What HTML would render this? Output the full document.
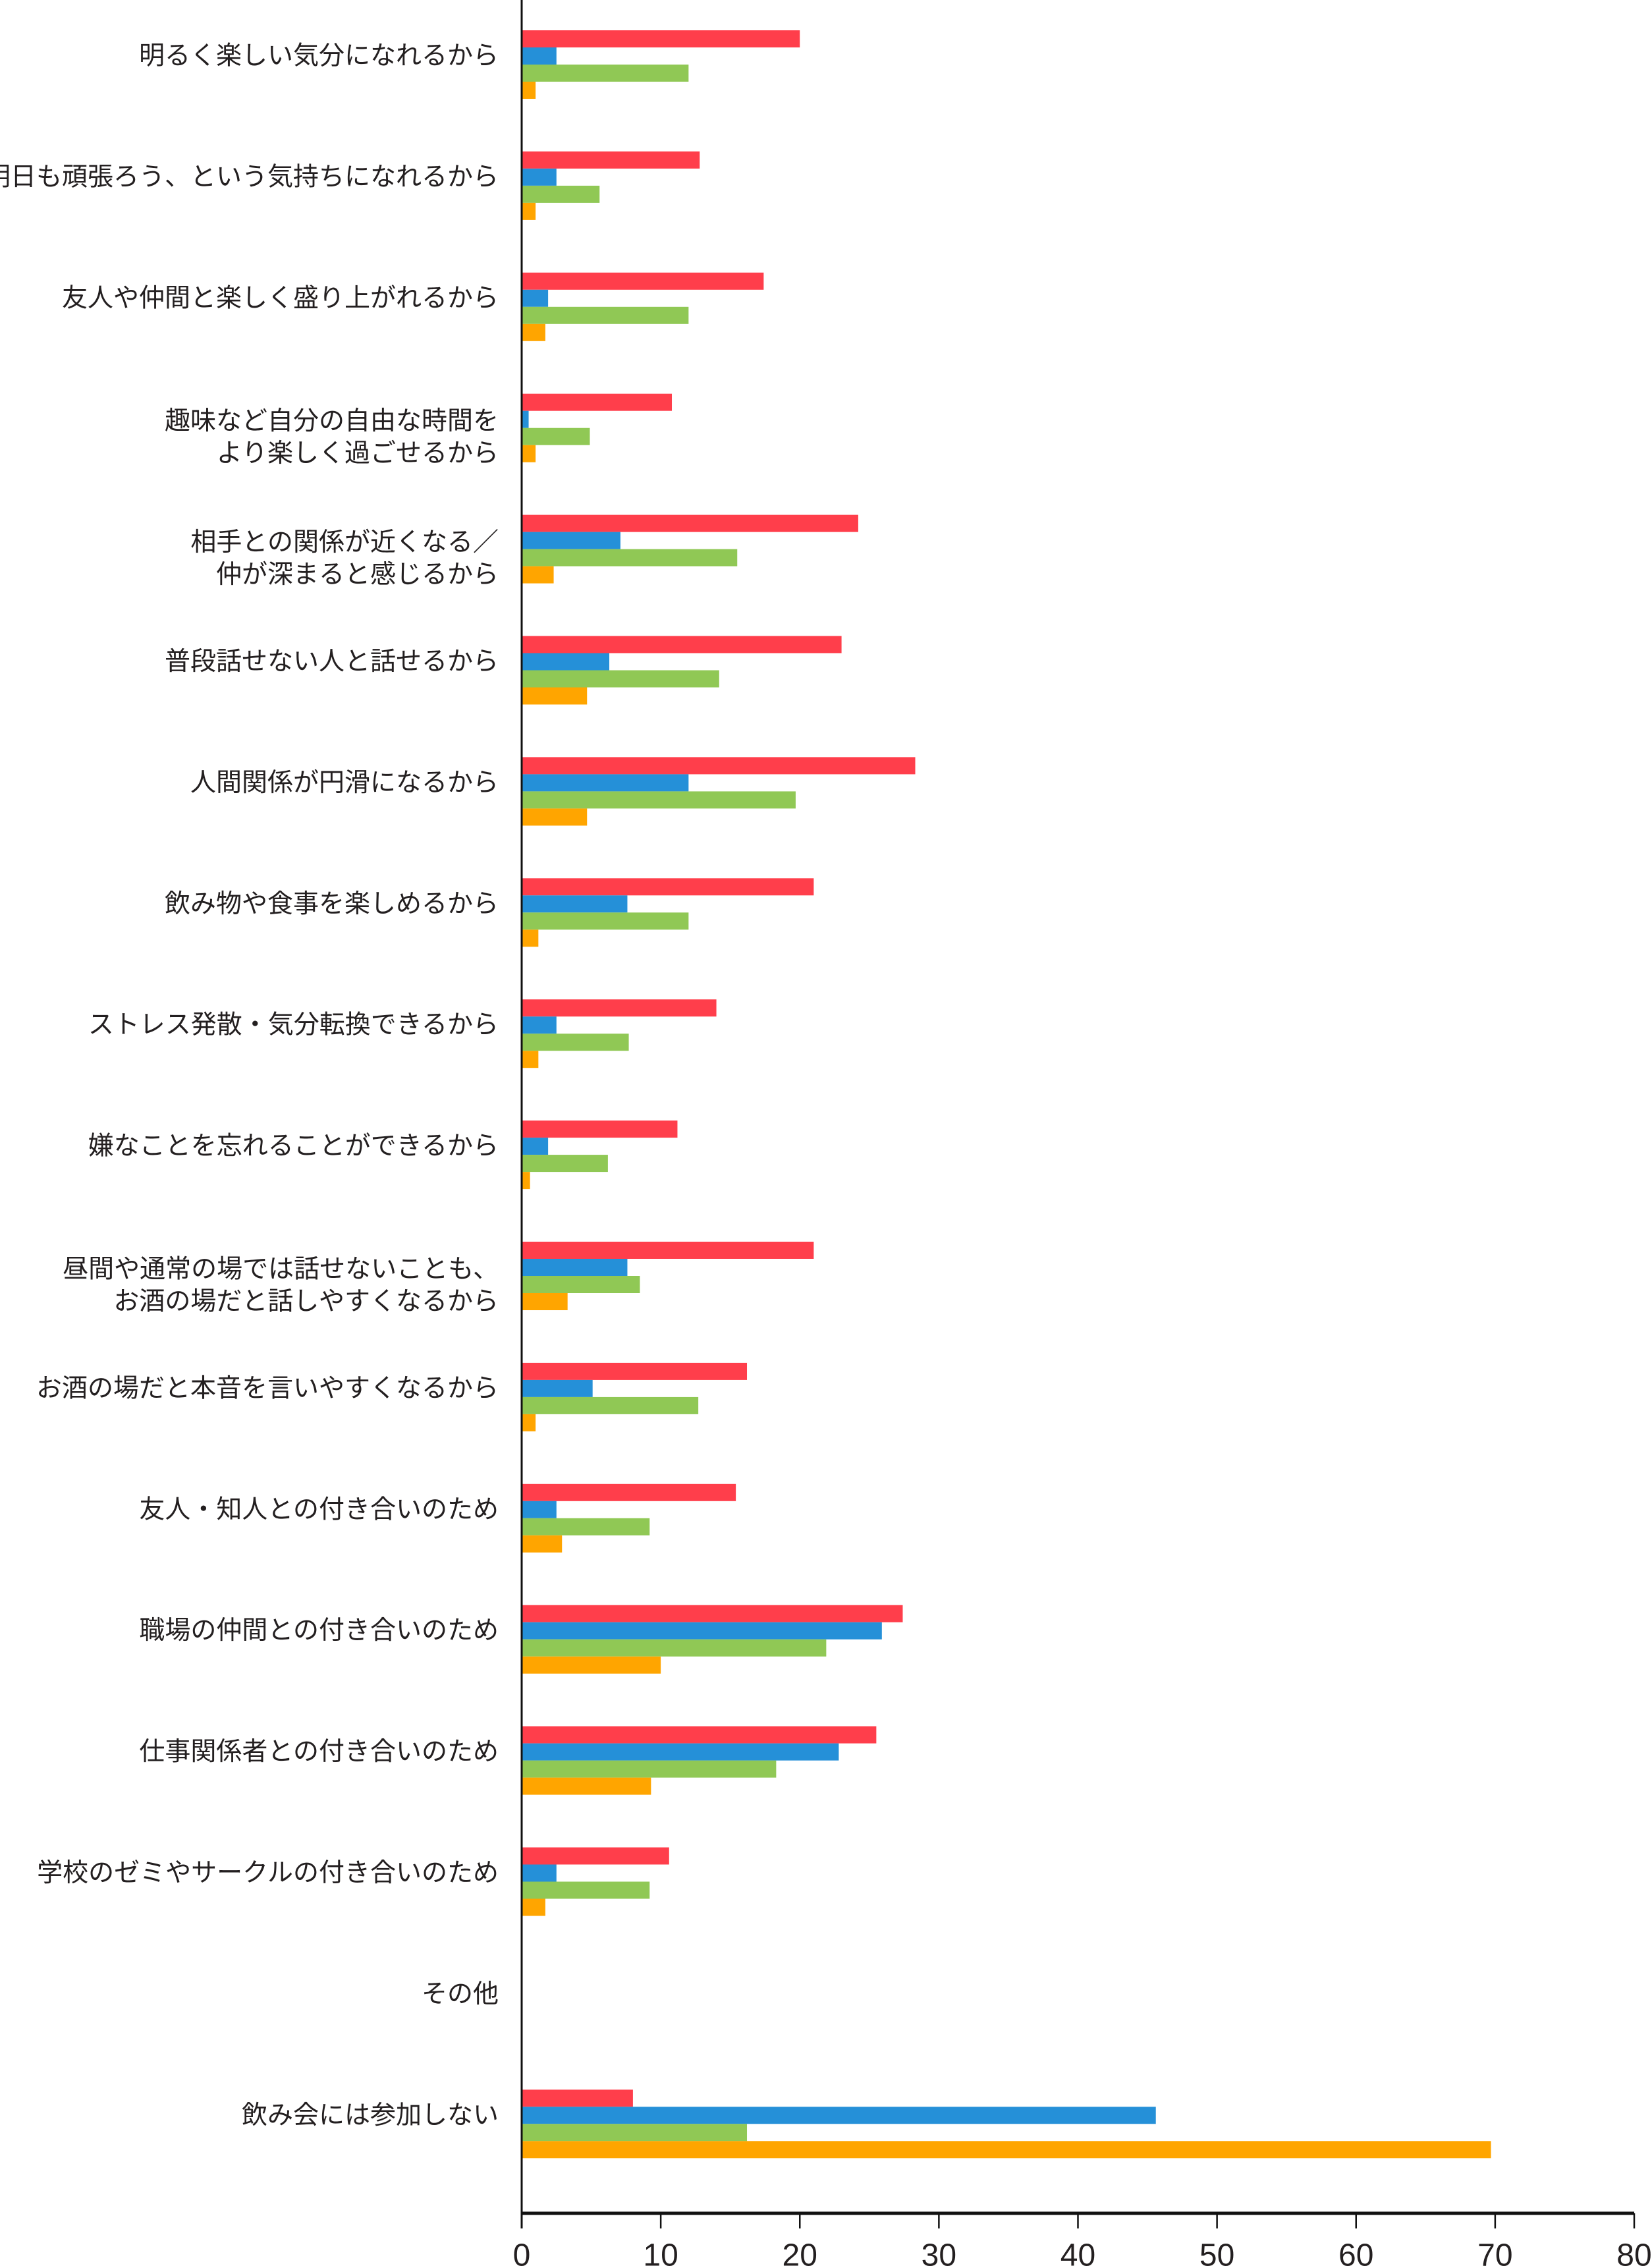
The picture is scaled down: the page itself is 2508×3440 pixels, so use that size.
<!DOCTYPE html>
<html><head><meta charset="utf-8"><style>
html,body{margin:0;padding:0;background:#fff;}
svg{display:block;}
text{font-family:"Liberation Sans","Noto Sans CJK JP",sans-serif;fill:#231f20;}
</style></head><body>
<svg id="chart" width="2508" height="3440" viewBox="0 0 2508 3440" xmlns="http://www.w3.org/2000/svg">
<g id="labels"></g>
<g id="bars"></g>
<g id="axes"></g>
</svg>
<script>
const categories = [
 ["明るく楽しい気分になれるから"],
 ["明日も頑張ろう、という気持ちになれるから"],
 ["友人や仲間と楽しく盛り上がれるから"],
 ["趣味など自分の自由な時間を","より楽しく過ごせるから"],
 ["相手との関係が近くなる／","仲が深まると感じるから"],
 ["普段話せない人と話せるから"],
 ["人間関係が円滑になるから"],
 ["飲み物や食事を楽しめるから"],
 ["ストレス発散・気分転換できるから"],
 ["嫌なことを忘れることができるから"],
 ["昼間や通常の場では話せないことも、","お酒の場だと話しやすくなるから"],
 ["お酒の場だと本音を言いやすくなるから"],
 ["友人・知人との付き合いのため"],
 ["職場の仲間との付き合いのため"],
 ["仕事関係者との付き合いのため"],
 ["学校のゼミやサークルの付き合いのため"],
 ["その他"],
 ["飲み会には参加しない"]
];
const seriesRed    = [20.0,12.8,17.4,10.8,24.2,23.0,28.3,21.0,14.0,11.2,21.0,16.2,15.4,27.4,25.5,10.6,0,8.0];
const seriesBlue   = [2.5,2.5,1.9,0.5,7.1,6.3,12.0,7.6,2.5,1.9,7.6,5.1,2.5,25.9,22.8,2.5,0,45.6];
const seriesGreen  = [12.0,5.6,12.0,4.9,15.5,14.2,19.7,12.0,7.7,6.2,8.5,12.7,9.2,21.9,18.3,9.2,0,16.2];
const seriesOrange = [1.0,1.0,1.7,1.0,2.3,4.7,4.7,1.2,1.2,0.6,3.3,1.0,2.9,10.0,9.3,1.7,0,69.7];
const tickLabels = [0,10,20,30,40,50,60,70,80];

const NS="http://www.w3.org/2000/svg";
const X0=792, X1=2481, XMAX=80;
const Y0=46, STEP=183.9, BH=26, AXY=3360;
const xs=v=>X0+(v/XMAX)*(X1-X0);
const ys=i=>Y0+i*STEP;
function mk(tag,attrs,parent){const e=document.createElementNS(NS,tag);for(const k in attrs)e.setAttribute(k,attrs[k]);parent.appendChild(e);return e;}
const gB=document.getElementById('bars'),gL=document.getElementById('labels'),gA=document.getElementById('axes');
const series=[[seriesRed,'#ff3e4b','red'],[seriesBlue,'#2590d8','blue'],[seriesGreen,'#90c855','green'],[seriesOrange,'#ffa500','orange']];
categories.forEach((lines,i)=>{
  const top=ys(i);
  series.forEach(([arr,col,nm],s)=>{
    const v=arr[i];
    const r=mk('rect',{x:X0,y:top+s*BH,width:Math.max(0,xs(v)-X0),height:BH,fill:col},gB);
    
    
  });
  const c=top+2*BH;
  const t=mk('text',{x:757,'text-anchor':'end','font-size':39},gL);
  
  
  if(lines.length===1){
    mk('tspan',{x:757,y:c-13,'dominant-baseline':'central'},t).textContent=lines[0];
  }else{
    mk('tspan',{x:757,y:c-10,'dominant-baseline':'central'},t).textContent=lines[0];
    mk('tspan',{x:757,y:c+39,'dominant-baseline':'central'},t).textContent=lines[1];
  }
});
const ya=mk('line',{x1:X0,y1:0,x2:X0,y2:3383,stroke:'#111',"stroke-width":3},gA);


const xa=mk('line',{x1:X0,y1:AXY,x2:X1,y2:AXY,stroke:'#111',"stroke-width":5},gA);


tickLabels.forEach(v=>{
  const x=xs(v);
  const tk=mk('line',{x1:x,y1:AXY,x2:x,y2:3383,stroke:'#111',"stroke-width":2.5},gA);
  
  
  const tl=mk('text',{x:x,y:3424,'text-anchor':'middle','dominant-baseline':'central','font-size':48},gA);
  
  
  tl.textContent=v;
});
</script>
</body></html>
